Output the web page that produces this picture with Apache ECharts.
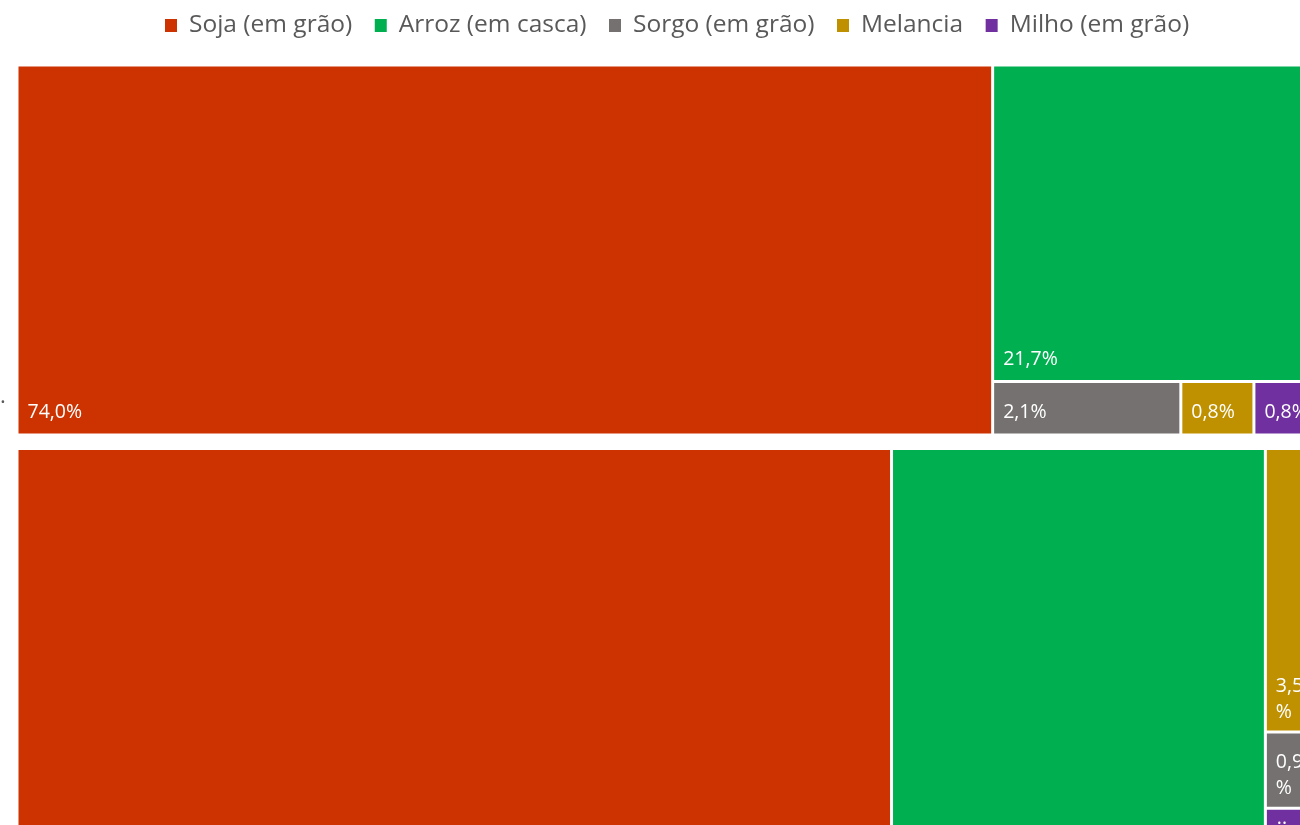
<!DOCTYPE html>
<html>
<head>
<meta charset="utf-8">
<script src="https://cdn.jsdelivr.net/npm/echarts@6/dist/echarts.min.js"></script>
<style>
html,body{margin:0;padding:0;background:#fff;}
#c{width:1300px;height:825px;}
</style>
</head>
<body>
<div id="c"></div>
<script>
// ---- data ----
const categories = ['Soja (em grão)', 'Arroz (em casca)', 'Sorgo (em grão)', 'Melancia', 'Milho (em grão)'];
const colors = ['#CC3300', '#00B050', '#767171', '#BF9000', '#7030A0'];
const groupA = [74.0, 21.7, 2.06, 0.8, 0.8];
const groupB = [65.5, 28.0, 0.94, 3.5, 0.7];

const FONT = 'Open Sans';
function fmt(v) { return v.toFixed(1).replace('.', ',') + '%'; }

// build items, sorted by value (descending, stable on ties)
function buildData(vals, overrides) {
  const items = categories.map((name, i) => {
    const item = { name: name, value: vals[i], itemStyle: { color: colors[i] } };
    if (overrides && overrides[name]) item.label = overrides[name];
    return { item: item, i: i };
  });
  items.sort((a, b) => (b.item.value - a.item.value) || (a.i - b.i));
  return items.map(d => d.item);
}

const baseLabel = {
  show: true,
  position: 'insideBottomLeft',
  distance: 0,
  color: '#ffffff',
  fontFamily: FONT,
  fontSize: 19.5,
  lineHeight: 26,
  padding: [0, 4, 8, 9],
  overflow: 'truncate',
  formatter: p => fmt(p.value)
};

function treemap(data, box) {
  return Object.assign({
    type: 'treemap',
    roam: false,
    nodeClick: false,
    silent: true,
    breadcrumb: { show: false },
    sort: false,
    visibleMin: 1,
    itemStyle: { gapWidth: 3, borderWidth: 0, borderColor: '#ffffff' },
    label: baseLabel,
    upperLabel: { show: false },
    animation: false,
    data: data
  }, box);
}

const narrowB = {
  'Melancia': { overflow: 'breakAll', padding: [0, 28, 5, 9] },
  'Sorgo (em grão)': { overflow: 'breakAll', padding: [0, 28, 5, 9] },
  'Milho (em grão)': { position: 'insideTopLeft', padding: [2, 4, 0, 10], lineHeight: 14, formatter: '..' }
};

const legendSeries = categories.map((name, i) => ({
  type: 'scatter', name: name, data: [], xAxisIndex: 0, yAxisIndex: 0,
  itemStyle: { color: colors[i], opacity: 1 }
}));

const chart = echarts.init(document.getElementById('c'), null, { renderer: 'canvas' });
chart.setOption({
  animation: false,
  backgroundColor: '#ffffff',
  grid: { left: 0, top: 0, width: 1, height: 1, show: false },
  xAxis: { show: false, type: 'value' },
  yAxis: { show: false, type: 'value' },
  legend: {
    data: categories,
    top: 8,
    left: 160,
    icon: 'rect',
    itemWidth: 12,
    itemHeight: 13,
    itemGap: 22.5,
    selectedMode: false,
    itemStyle: { opacity: 1 },
    textStyle: { fontFamily: FONT, fontSize: 24.5, color: '#595959', padding: [0, 0, 0, 7] }
  },
  graphic: [{ type: 'text', left: 0, top: 386, style: { text: '.', fill: '#595959', font: '22px Open Sans' } }],
  series: [
    treemap(buildData(groupA), { left: 18.5, top: 66.5, width: 1307, height: 366.9 }),
    treemap(buildData(groupB, narrowB), { left: 18.5, top: 450, width: 1314, height: 413.4 })
  ].concat(legendSeries)
});
</script>
</body>
</html>
